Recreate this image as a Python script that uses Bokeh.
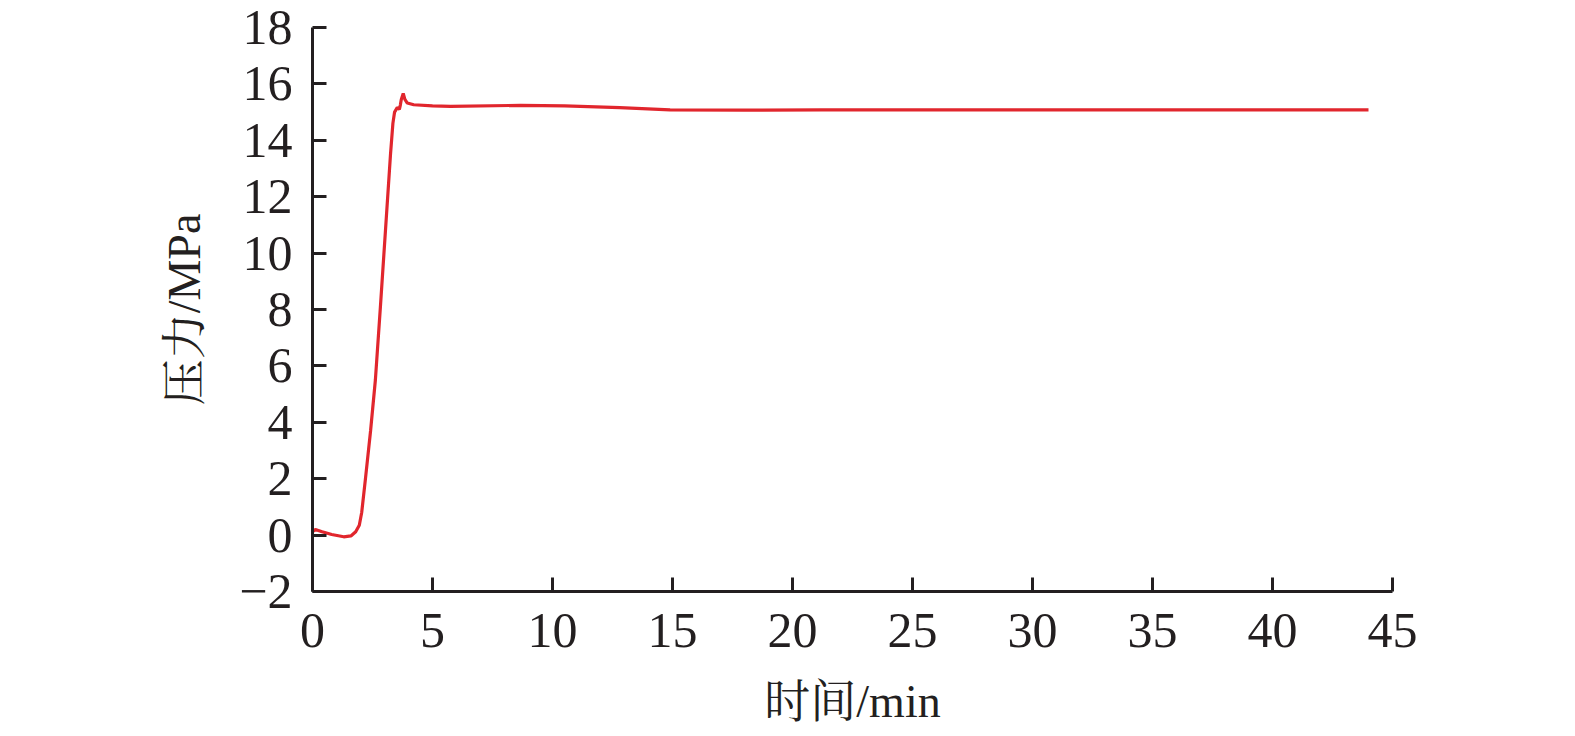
from bokeh.plotting import figure
from bokeh.models import Range1d, FixedTicker
from bokeh.embed import file_html
from bokeh.resources import INLINE

# data (time in min, pressure in MPa)
time_min = [0.0, 0.12, 0.4, 0.8, 1.3, 1.6, 1.8, 1.95, 2.05, 2.2, 2.42, 2.62, 2.83,
            3.04, 3.25, 3.35, 3.42, 3.53, 3.62, 3.66, 3.7, 3.78, 3.85, 3.95, 4.22,
            5.0, 5.75, 8.67, 10.5, 12.8, 14.9, 18.0, 21.2, 30.0, 40.0, 44.0]
pressure = [0.12, 0.2, 0.12, 0.02, -0.06, -0.03, 0.12, 0.35, 0.8, 1.95, 3.7, 5.5, 8.1,
            10.8, 13.5, 14.6, 15.0, 15.16, 15.1, 15.25, 15.45, 15.66, 15.45, 15.32, 15.26,
            15.22, 15.2, 15.24, 15.22, 15.16, 15.08, 15.07, 15.08, 15.08, 15.08, 15.08]

x_ticks = [0, 5, 10, 15, 20, 25, 30, 35, 40, 45]
y_ticks = [-2, 0, 2, 4, 6, 8, 10, 12, 14, 16, 18]
x_label = "时间/min"
y_label = "压力/MPa"

AX = "#231f20"
FONT = "Liberation Serif, Noto Serif CJK SC, Noto Sans CJK SC"

W, H = 1559, 736
p = figure(width=W, height=H, output_backend="svg", toolbar_location=None,
           x_range=Range1d(0, 45), y_range=Range1d(-2, 18),
           min_border_left=312, min_border_right=W - 1392,
           min_border_top=27, min_border_bottom=H - 591)
p.outline_line_color = None
p.grid.visible = False
p.background_fill_color = "white"
p.border_fill_color = "white"

p.line(time_min, pressure, line_color="#e1262d", line_width=3.2)

for ax in (p.xaxis[0], p.yaxis[0]):
    ax.axis_line_color = AX
    ax.axis_line_width = 3
    ax.major_tick_line_color = AX
    ax.major_tick_line_width = 3
    ax.major_tick_in = 14
    ax.major_tick_out = 0
    ax.minor_tick_line_color = None
    ax.major_label_text_font = FONT
    ax.major_label_text_font_size = "50px"
    ax.major_label_text_color = AX
    ax.axis_label_text_font = FONT
    ax.axis_label_text_font_size = "46px"
    ax.axis_label_text_font_style = "normal"
    ax.axis_label_text_color = AX

p.xaxis.ticker = FixedTicker(ticks=x_ticks)
p.yaxis.ticker = FixedTicker(ticks=y_ticks)
p.yaxis.major_label_overrides = {t: (("\u2212" + str(-t)) if t < 0 else str(t)) for t in y_ticks}
p.xaxis.major_label_overrides = {t: str(t) for t in x_ticks}
p.xaxis.axis_label = x_label
p.yaxis.axis_label = y_label
p.xaxis.major_label_standoff = 22
p.yaxis.major_label_standoff = 20
p.xaxis.axis_label_standoff = 26
p.yaxis.axis_label_standoff = 26

open("out.html", "w").write(file_html(p, INLINE))
